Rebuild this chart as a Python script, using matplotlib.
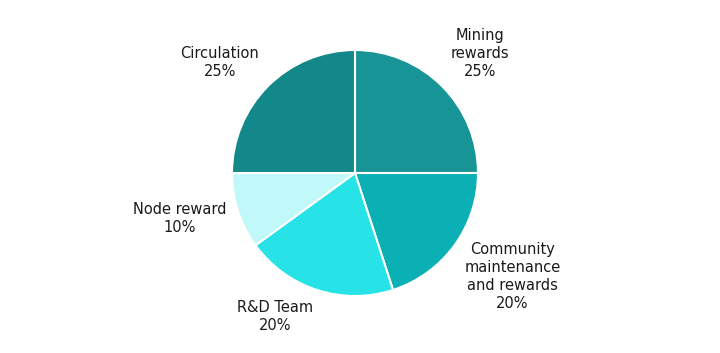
import numpy as np
import matplotlib
matplotlib.use("Agg")
import matplotlib.pyplot as plt

labels = ["Mining\nrewards", "Community\nmaintenance\nand rewards", "R&D Team", "Node reward", "Circulation"]
shares = [25, 20, 20, 10, 25]
colors = ["#179496", "#0bb0b4", "#27e2e6", "#c1f8f9", "#13888a"]

fig = plt.figure(figsize=(7.2, 3.53), dpi=100)
# pie centre at (355, 173) px, radius 123 px
cx, cy, r = 355, 173, 123
ax = fig.add_axes([(cx - r) / 720, (353 - cy - r) / 353, 2 * r / 720, 2 * r / 353])

wedges, _ = ax.pie(shares, colors=colors, startangle=90, counterclock=False,
                   radius=1, wedgeprops=dict(edgecolor="white", linewidth=1.5))
ax.set_xlim(-1, 1)
ax.set_ylim(-1, 1)
ax.set_aspect("equal")
ax.axis("off")

# labels outside, like plotly
for w, lab, s in zip(wedges, labels, shares):
    ang = np.deg2rad((w.theta1 + w.theta2) / 2)
    c, sn = np.cos(ang), np.sin(ang)
    x, y = 1.1 * c, 1.1 * sn
    ha = "left" if c > 0 else "right"
    if sn > 0.5:
        va = "bottom"
        y -= 2 / r
    elif sn < -0.5:
        va = "top"
        y += (11 + 24.8 * (sn + 0.588)) / r
    else:
        va = "center"
        y -= 4 / r
    ax.text(x, y, f"{lab}\n{s}%", ha=ha, va=va, multialignment="center",
            fontsize=10.5, family="DejaVu Sans", color="#1a1a1a",
            linespacing=1.25, clip_on=False)

fig.savefig("out.png", dpi=100)
